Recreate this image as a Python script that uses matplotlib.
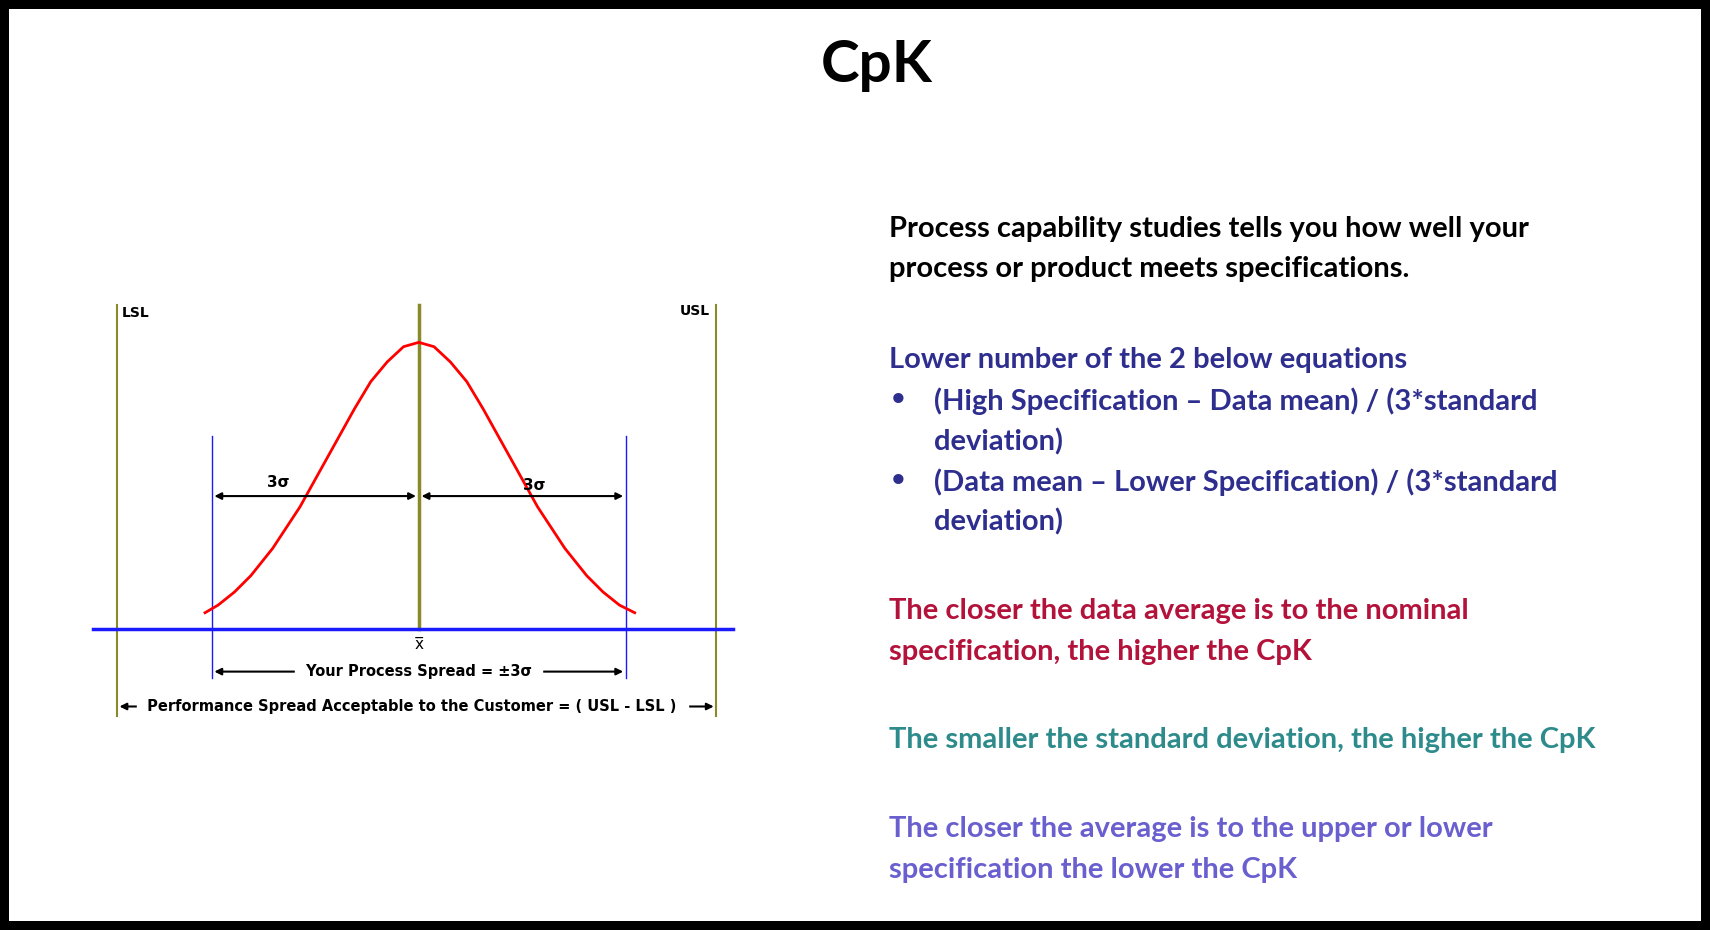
import numpy as np
import matplotlib.pyplot as plt
from matplotlib.patches import Rectangle

# curve points (pixel-ish units of the slide)
curve_x = [188, 200, 215, 230, 250, 275, 300, 325, 340, 355, 370, 384,
           398, 413, 428, 443, 468, 493, 518, 538, 553, 568, 582]
curve_y = [562, 555, 543, 528, 503, 465, 420, 375, 350, 332, 318, 314,
           318, 332, 350, 375, 420, 465, 503, 528, 543, 555, 562]
lsl_x, usl_x, mean_x = 107, 657, 384
sig_lo, sig_hi = 194, 574
base_y = 577

title = "CpK"
lines = [
    ("Process capability studies tells you how well your", 210, "#000000", 815),
    ("process or product meets specifications.", 247, "#000000", 815),
    ("Lower number of the 2 below equations", 330, "#2e2e8f", 815),
    ("(High Specification \u2013 Data mean) / (3*standard", 368, "#2e2e8f", 856),
    ("deviation)", 405, "#2e2e8f", 856),
    ("(Data mean \u2013 Lower Specification) / (3*standard", 442, "#2e2e8f", 856),
    ("deviation)", 479, "#2e2e8f", 856),
    ("The closer the data average is to the nominal", 560, "#b3123a", 815),
    ("specification, the higher the CpK", 598, "#b3123a", 815),
    ("The smaller the standard deviation, the higher the CpK", 679, "#2e8b8b", 815),
    ("The closer the average is to the upper or lower", 760, "#6a5fcf", 815),
    ("specification the lower the CpK", 798, "#6a5fcf", 815),
]
bullets_y = [368, 442]

fig = plt.figure(figsize=(17.1, 9.3), dpi=100)
ax = fig.add_axes([0, 0, 1, 1])
ax.set_xlim(0, 1568)
ax.set_ylim(853, 0)
ax.axis("off")
ax.add_patch(Rectangle((0, 0), 1568, 853, facecolor="black"))
ax.add_patch(Rectangle((8, 8), 1552, 837, facecolor="white"))

ax.text(804, 60, title, ha="center", va="center", fontsize=42, fontweight="bold",
        family="Lato", color="black")

# faint watermark
for y, w in [(213, "Copyright"), (272, "Quality Assurance Solutions"),
             (393, "Copyright"), (452, "Quality Assurance Solutions"),
             (573, "Copyright"), (632, "Quality Assurance Solutions")]:
    ax.text(800, y, w, ha="center", va="center", fontsize=30, color="#eeeeee",
            family="Open Sans", zorder=0)

olive = "#8a8a2a"
ax.plot([lsl_x, lsl_x], [280, 657], color=olive, lw=1.5)
ax.plot([usl_x, usl_x], [280, 657], color=olive, lw=1.5)
ax.plot([mean_x, mean_x], [280, base_y], color=olive, lw=2.5)
ax.plot([sig_lo, sig_lo], [400, 622], color="#1a1aff", lw=1)
ax.plot([sig_hi, sig_hi], [400, 622], color="#1a1aff", lw=1)
ax.plot([85, 672], [base_y, base_y], color="#1a1aff", lw=2.5)
ax.plot(curve_x, curve_y, color="red", lw=2)

ax.text(112, 287, "LSL", fontsize=10, fontweight="bold", va="center")
ax.text(651, 285, "USL", fontsize=10, fontweight="bold", va="center", ha="right")

arr = dict(arrowstyle="<|-|>", color="black", lw=1.5, mutation_scale=10)
ax.annotate("", xy=(sig_lo, 455), xytext=(mean_x, 455), arrowprops=arr)
ax.annotate("", xy=(mean_x, 455), xytext=(sig_hi, 455), arrowprops=arr)
ax.text(255, 443, "3\u03c3", fontsize=11, fontweight="bold", ha="center", va="center")
ax.text(490, 445, "3\u03c3", fontsize=11, fontweight="bold", ha="center", va="center")
ax.text(mean_x, 591, "x\u0305", fontsize=11, ha="center", va="center")

ax.annotate("", xy=(sig_lo, 616), xytext=(sig_hi, 616), arrowprops=arr)
ax.text(mean_x, 616, " Your Process Spread = \u00b13\u03c3 ", fontsize=10.5, fontweight="bold",
        ha="center", va="center", backgroundcolor="white")
ax.annotate("", xy=(lsl_x, 648), xytext=(usl_x, 648), arrowprops=arr)
ax.text(378, 648, " Performance Spread Acceptable to the Customer = ( USL - LSL ) ", fontsize=10.5,
        fontweight="bold", ha="center", va="center", backgroundcolor="white")

for txt, y, c, x in lines:
    ax.text(x, y, txt, fontsize=21, fontweight="bold", family="Lato", color=c, va="center")
for y in bullets_y:
    ax.text(815, y, "\u2022", fontsize=21, fontweight="bold", color="#2e2e8f", va="center")

fig.savefig("out.png", dpi=100)
